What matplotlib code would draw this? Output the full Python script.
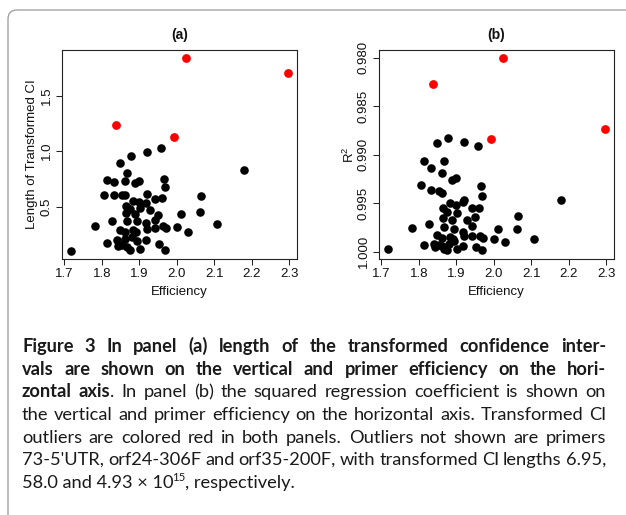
import matplotlib
matplotlib.use("Agg")
import matplotlib.pyplot as plt
from matplotlib.patches import FancyBboxPatch
from matplotlib.transforms import IdentityTransform

# ---------------- data ----------------
eff = [1.719, 2.180, 2.106, 2.065, 2.062, 2.012, 2.029, 2.001, 1.959, 1.920,
       1.877, 1.849, 1.867, 1.966, 1.969, 1.813, 1.832, 1.862, 1.888, 1.900,
       1.805, 1.833, 1.853, 1.861, 1.921, 1.942, 1.960, 1.918, 1.884, 1.898,
       1.865, 1.874, 1.902, 1.929, 1.865, 1.889, 1.951, 1.867, 1.895, 1.827,
       1.783, 1.942, 1.918, 1.921, 1.941, 1.962, 1.970, 1.849, 1.861, 1.882,
       1.891, 1.840, 1.861, 1.880, 1.814, 1.842, 1.867, 1.876, 1.901, 1.917,
       1.953, 1.968, 1.854, 1.893]
ci_len = [0.102, 0.829, 0.344, 0.593, 0.452, 0.431, 0.272, 0.317, 1.024, 0.994,
          0.958, 0.892, 0.805, 0.751, 0.680, 0.742, 0.725, 0.728, 0.713, 0.736,
          0.608, 0.602, 0.608, 0.602, 0.617, 0.572, 0.581, 0.533, 0.554, 0.542,
          0.509, 0.479, 0.488, 0.467, 0.443, 0.437, 0.425, 0.368, 0.371, 0.374,
          0.323, 0.377, 0.356, 0.299, 0.305, 0.323, 0.305, 0.287, 0.272, 0.293,
          0.272, 0.204, 0.210, 0.225, 0.174, 0.150, 0.138, 0.114, 0.123, 0.198,
          0.168, 0.114, 0.159, 0.189]
r2 = [0.99969, 0.99471, 0.99873, 0.99629, 0.99766, 0.99766, 0.99904, 0.99866, 0.98907, 0.98866,
      0.98832, 0.98876, 0.99062, 0.99320, 0.99426, 0.99065, 0.99134, 0.99192, 0.99261, 0.99237,
      0.99313, 0.99364, 0.99378, 0.99392, 0.99464, 0.99546, 0.99546, 0.99485, 0.99498, 0.99522,
      0.99550, 0.99588, 0.99601, 0.99670, 0.99649, 0.99674, 0.99639, 0.99746, 0.99766, 0.99711,
      0.99753, 0.99732, 0.99801, 0.99835, 0.99838, 0.99842, 0.99863, 0.99828, 0.99863, 0.99845,
      0.99869, 0.99921, 0.99945, 0.99921, 0.99935, 0.99955, 0.99976, 0.99983, 0.99976, 0.99942,
      0.99955, 0.99983, 0.99935, 0.99893]

red_eff = [2.024, 2.297, 1.837, 1.992]
red_ci = [1.841, 1.701, 1.231, 1.123]
red_r2 = [0.98007, 0.98735, 0.98268, 0.98835]

x_ticks = [1.7, 1.8, 1.9, 2.0, 2.1, 2.2, 2.3]
x_tick_labels = ["1.7", "1.8", "1.9", "2.0", "2.1", "2.2", "2.3"]
ci_ticks = [0.5, 1.0, 1.5]
ci_tick_labels = ["0.5", "1.0", "1.5"]
r2_ticks = [0.980, 0.985, 0.990, 0.995, 1.000]
r2_tick_labels = ["0.980", "0.985", "0.990", "0.995", "1.000"]

caption_lines = [
    [("Figure 3 In panel (a) length of the transformed confidence inter-", "bold")],
    [("vals are shown on the vertical and primer efficiency on the hori-", "bold")],
    [("zontal axis", "bold"), (". In panel (b) the squared regression coefficient is shown on", "normal")],
    [("the vertical and primer efficiency on the horizontal axis. Transformed CI", "normal")],
    [("outliers are colored red in both panels. Outliers not shown are primers", "normal")],
    [("73-5'UTR, orf24-306F and orf35-200F, with transformed CI lengths 6.95,", "normal")],
]
caption_last = ("58.0 and 4.93 \u00d7 10", "15", ", respectively.")

# ---------------- figure ----------------
W, H = 626, 515
fig = plt.figure(figsize=(W / 100, H / 100), dpi=100)
fig.patch.set_facecolor("white")

plt.rcParams["font.family"] = ["Liberation Sans", "DejaVu Sans"]

# rounded grey frame
frame = FancyBboxPatch((8, -40), 700, H - 10 + 40,
                       boxstyle="round,pad=0,rounding_size=9",
                       transform=IdentityTransform(), fill=False,
                       edgecolor="#9a9a9a", linewidth=0.9)
fig.add_artist(frame)

TICK_FS = 9.5
LABEL_FS = 9.5
TXT = "#111111"


def make_axes(left_px):
    ax = fig.add_axes([left_px / W, (H - 259) / H, 235 / W, 209 / H])
    for s in ax.spines.values():
        s.set_linewidth(0.8)
        s.set_color("#222222")
    ax.tick_params(direction="out", length=4.3, width=0.75, colors="#222222",
                   labelsize=TICK_FS, labelcolor=TXT, pad=2.5)
    ax.set_xlim(1.694, 2.320)
    ax.set_xticks(x_ticks, x_tick_labels)
    return ax


# panel (a)
ax1 = make_axes(62)
ax1.scatter(eff, ci_len, s=38, color="black", linewidths=0, zorder=3)
ax1.scatter(red_eff, red_ci, s=40, color="#ff0000", linewidths=0, zorder=3)
ax1.set_ylim(0.030, 1.910)
ax1.set_yticks(ci_ticks, ci_tick_labels)
ax1.set_xlabel("Efficiency", fontsize=LABEL_FS, color=TXT)
ax1.xaxis.label.set_va("center")
ax1.xaxis.set_label_coords(0.5, -0.157)
ax1.set_ylabel("Length of Transformed CI", fontsize=LABEL_FS, color=TXT)
ax1.yaxis.label.set_va("center")
ax1.yaxis.set_label_coords(-0.128, 0.5)
ax1.text(0.5, 1 + 15 / 209, "(a)", transform=ax1.transAxes, ha="center",
         va="center", fontsize=10, fontweight="bold", color=TXT)

# panel (b)
ax2 = make_axes(379)
ax2.scatter(eff, r2, s=38, color="black", linewidths=0, zorder=3)
ax2.scatter(red_eff, red_r2, s=40, color="#ff0000", linewidths=0, zorder=3)
ax2.set_ylim(1.00075, 0.97921)
ax2.set_yticks(r2_ticks, r2_tick_labels)
ax2.set_xlabel("Efficiency", fontsize=LABEL_FS, color=TXT)
ax2.xaxis.label.set_va("center")
ax2.xaxis.set_label_coords(0.5, -0.157)
ax2.set_ylabel(r"$\mathregular{R^2}$", fontsize=LABEL_FS, color=TXT)
ax2.yaxis.label.set_va("center")
ax2.yaxis.set_label_coords(-0.128, 0.5)
ax2.text(0.5, 1 + 15 / 209, "(b)", transform=ax2.transAxes, ha="center",
         va="center", fontsize=10, fontweight="bold", color=TXT)

for ax in (ax1, ax2):
    for lab in ax.get_yticklabels():
        lab.set_rotation(90)
        lab.set_va("center")

# ---------------- caption (justified) ----------------
CAP_FONT = ["Lato", "Open Sans", "DejaVu Sans"]
renderer = fig.canvas.get_renderer()


def text_w(s, weight, size):
    t = fig.text(0, 0, s, fontsize=size, fontweight=weight, family=CAP_FONT)
    w = t.get_window_extent(renderer=renderer).width
    t.remove()
    return w


def build_words(line):
    # a word is a list of (text, weight) runs; runs joined without space
    words = []
    for seg, wt in line:
        parts = seg.split(" ")
        for i, p in enumerate(parts):
            if i == 0 and words and p != "":
                words[-1].append((p, wt))
            elif p != "":
                words.append([(p, wt)])
    return words


X0, X1 = 22.0, 606.0
BASE0 = 352.0
LSTEP = 22.7

CAP_FS = 13.5
for line in caption_lines:
    words = build_words(line)
    tot = sum(text_w(t, wt, CAP_FS) for wd in words for t, wt in wd)
    min_gap = 0.2 * CAP_FS * 100 / 72
    need = tot + min_gap * (len(words) - 1)
    if need > (X1 - X0):
        CAP_FS *= (X1 - X0) / need

for li, line in enumerate(caption_lines):
    words = build_words(line)
    widths = [[text_w(t, wt, CAP_FS) for t, wt in wd] for wd in words]
    total = sum(sum(w) for w in widths)
    gap = (X1 - X0 - total) / (len(words) - 1)
    x = X0
    ybase = float(round(H - (BASE0 + li * LSTEP)))
    for wd, ws in zip(words, widths):
        for (t, wt), w in zip(wd, ws):
            fig.text(x / W, ybase / H, t, fontsize=CAP_FS, fontweight=wt,
                     family=CAP_FONT, color="#1a1a1a", va="baseline", ha="left")
            x += w
        x += gap

# last line (left aligned, with superscript)
ybase = float(round(H - (BASE0 + 6 * LSTEP)))
x = X0
w0 = text_w(caption_last[0], "normal", CAP_FS)
fig.text(x / W, ybase / H, caption_last[0], fontsize=CAP_FS, family=CAP_FONT,
         color="#1a1a1a", va="baseline", ha="left")
x += w0 - 1.0
w1 = text_w(caption_last[1], "normal", CAP_FS * 0.62)
fig.text(x / W, (ybase + CAP_FS * 100 / 72 * 0.36) / H, caption_last[1],
         fontsize=CAP_FS * 0.62, family=CAP_FONT, color="#1a1a1a",
         va="baseline", ha="left")
x += w1 - 0.5
fig.text(x / W, ybase / H, caption_last[2], fontsize=CAP_FS, family=CAP_FONT,
         color="#1a1a1a", va="baseline", ha="left")

fig.savefig("out.png", dpi=100, facecolor="white")
